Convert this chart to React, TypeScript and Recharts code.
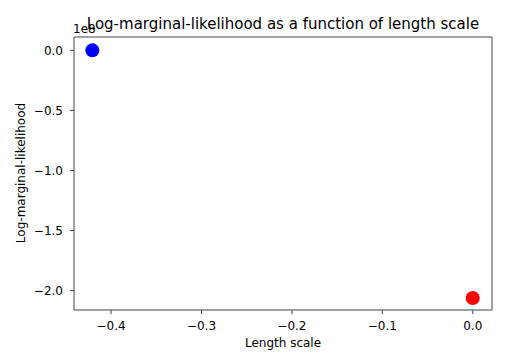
import { ScatterChart, Scatter, XAxis, YAxis, ReferenceLine } from 'recharts';

// length scale and log-marginal-likelihood (in units of 1e8)
const lengthScales = [-0.4207, 0.0];
const logLikelihoods = [0.0, -2.061];
const pointColors = ['#0000ff', '#ff0000'];

const xTicks = [-0.4, -0.3, -0.2, -0.1, 0.0];
const yTicks = [0.0, -0.5, -1.0, -1.5, -2.0];

const X_DOMAIN: [number, number] = [-0.441, 0.0213];
const Y_DOMAIN: [number, number] = [-2.161, 0.111];

const FONT = '"DejaVu Sans", sans-serif';
const fmt = (v: number) => v.toFixed(1).replace('-', '\u2212');

const tickStyle = { fontSize: 12, fill: '#000', fontFamily: FONT };
const axisStroke = { stroke: '#444', strokeWidth: 1 };

const Dot = (props: any) => <circle cx={props.cx} cy={props.cy} r={7} fill={props.fill} />;

const App = () => {
  const series = lengthScales.map((x, i) => ({ x, y: logLikelihoods[i], color: pointColors[i] }));

  return (
    <div style={{ position: 'absolute', left: 0, top: 0, width: 520, height: 362, background: '#fff' }}>
      <ScatterChart width={520} height={362} margin={{ top: 37, right: 28, bottom: 22, left: 0 }}>
        <XAxis
          type="number"
          dataKey="x"
          domain={X_DOMAIN}
          ticks={xTicks}
          tickFormatter={fmt}
          tick={tickStyle}
          tickSize={4}
          tickMargin={7}
          height={30}
          axisLine={axisStroke}
          tickLine={axisStroke}
        />
        <YAxis
          type="number"
          dataKey="y"
          domain={Y_DOMAIN}
          ticks={yTicks}
          tickFormatter={fmt}
          tick={tickStyle}
          tickSize={4}
          tickMargin={7}
          width={74}
          axisLine={axisStroke}
          tickLine={axisStroke}
        />
        <ReferenceLine y={Y_DOMAIN[1]} stroke="#444" strokeWidth={1} />
        <ReferenceLine x={X_DOMAIN[1]} stroke="#444" strokeWidth={1} />
        {series.map((p, i) => (
          <Scatter key={i} data={[p]} fill={p.color} shape={Dot} isAnimationActive={false} />
        ))}
      </ScatterChart>
      <svg width={520} height={362} style={{ position: 'absolute', left: 0, top: 0, pointerEvents: 'none' }}>
        <text x={73} y={33} fontSize={12} fontFamily={FONT} fill="#000">
          1e8
        </text>
        <text x={283} y={28.5} textAnchor="middle" fontSize={15} fontFamily={FONT} fill="#000">
          Log-marginal-likelihood as a function of length scale
        </text>
        <text x={283} y={346.5} textAnchor="middle" fontSize={12} fontFamily={FONT} fill="#000">
          Length scale
        </text>
        <text
          x={25}
          y={173}
          textAnchor="middle"
          fontSize={12}
          fontFamily={FONT}
          fill="#000"
          transform="rotate(-90 25 173)"
        >
          Log-marginal-likelihood
        </text>
      </svg>
    </div>
  );
};

export default App;
